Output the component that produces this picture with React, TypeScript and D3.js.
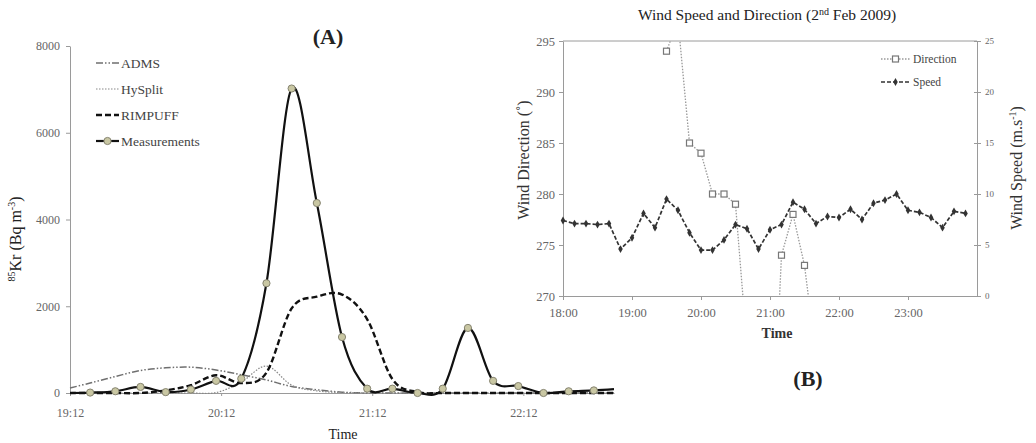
import { useEffect, useRef } from 'react';
import * as d3 from 'd3';

// ---------- Panel A: 85Kr concentration ----------
const measTimes = ['19:20', '19:30', '19:40', '19:50', '20:00', '20:10', '20:20', '20:30', '20:40', '20:50', '21:00',
  '21:10', '21:20', '21:30', '21:40', '21:50', '22:00', '22:10', '22:20', '22:30', '22:40'];
const measValues = [10, 40, 140, 20, 80, 280, 330, 2530, 7020, 4380, 1290, 100, 100, 0, 100, 1500, 280, 160, 0, 40, 60];
// line continues to the plot edges without markers
const measLead = { time: '19:12', value: 0 };
const measTail = { time: '22:48', value: 90 };

const modelTimes = ['19:12', '19:20', '19:30', '19:40', '19:50', '20:00', '20:10', '20:20', '20:30', '20:40', '20:50',
  '21:00', '21:10', '21:20', '21:30', '21:40', '21:50', '22:00', '22:10', '22:20', '22:30', '22:40', '22:48'];
const admsValues = [115, 230, 380, 520, 580, 595, 530, 420, 300, 150, 75, 20, 0, 0, 0, 0, 0, 0, 0, 0, 0, 0, 0];
const hysplitValues = [0, 0, 0, 0, 0, 0, 10, 250, 620, 180, 50, 10, 0, 0, 0, 0, 0, 0, 0, 0, 0, 0, 0];
const rimpuffValues = [0, 0, 0, 0, 60, 180, 410, 230, 470, 1950, 2220, 2270, 1700, 320, 20, 0, 0, 0, 0, 0, 0, 0, 0];

const concTicks = [0, 2000, 4000, 6000, 8000];
const timeTicksA = ['19:12', '20:12', '21:12', '22:12'];

// ---------- Panel B: wind ----------
const speedTimes = ['18:00', '18:10', '18:20', '18:30', '18:40', '18:50', '19:00', '19:10', '19:20', '19:30', '19:40', '19:50',
  '20:00', '20:10', '20:20', '20:30', '20:40', '20:50', '21:00', '21:10', '21:20', '21:30', '21:40', '21:50',
  '22:00', '22:10', '22:20', '22:30', '22:40', '22:50', '23:00', '23:10', '23:20', '23:30', '23:40', '23:50'];
const speedValues = [7.4, 7.1, 7.1, 7.0, 7.1, 4.6, 5.7, 8.1, 6.7, 9.5, 8.4, 6.2,
  4.5, 4.5, 5.5, 7.0, 6.6, 4.6, 6.5, 7.0, 9.2, 8.5, 7.1, 7.8,
  7.7, 8.5, 7.5, 9.1, 9.4, 10.0, 8.4, 8.2, 7.7, 6.7, 8.3, 8.1];

const dirTimes = ['19:30', '19:40', '19:50', '20:00', '20:10', '20:20', '20:30', '20:40', '20:50', '21:00', '21:10', '21:20', '21:30', '21:40'];
const dirValues = [294, 297, 285, 284, 280, 280, 279, 265, 255, 250, 274, 278, 273, 264];

const dirTicks = [270, 275, 280, 285, 290, 295];
const speedTicks = [0, 5, 10, 15, 20, 25];
const timeTicksB = ['18:00', '19:00', '20:00', '21:00', '22:00', '23:00'];

const FONT = '"Liberation Serif", "Times New Roman", serif';
const AXIS = '#9a9a9a';
const TICK_TEXT = '#666';
const LABEL = '#222';

const toMin = (t: string) => {
  const [h, m] = t.split(':').map(Number);
  return h * 60 + m;
};

const styleAxis = (g: any, size: number) => {
  g.select('.domain').attr('stroke', AXIS);
  g.selectAll('.tick line').attr('stroke', AXIS);
  g.selectAll('.tick text').attr('fill', TICK_TEXT).style('font-family', FONT).style('font-size', `${size}px`);
};

function drawPanelA(svg: any) {
  const x = d3.scaleLinear().domain([toMin('19:12'), toMin('22:48')]).range([70, 614]);
  const y = d3.scaleLinear().domain([0, 8000]).range([393, 46]);
  const g = svg.append('g');

  // axes
  g.append('g')
    .attr('transform', 'translate(70,0)')
    .call(d3.axisLeft(y).tickValues(concTicks).tickSize(4).tickSizeOuter(0).tickPadding(6).tickFormat(d3.format('d')))
    .call((s: any) => styleAxis(s, 12));

  g.append('g')
    .attr('transform', 'translate(0,393)')
    .call(d3.axisBottom(x).tickValues(timeTicksA.map(toMin)).tickSize(3).tickSizeOuter(0).tickPadding(12)
      .tickFormat((d: any, i: number) => timeTicksA[i]))
    .call((s: any) => styleAxis(s, 12));

  const smooth = d3.line<[number, number]>()
    .x(d => x(d[0]))
    .y(d => y(d[1]))
    .curve(d3.curveCardinal.tension(0));

  const models = [
    { name: 'ADMS', values: admsValues, stroke: '#6f6f6f', width: 1.5, dash: '7,2,1.5,2,1.5,2' },
    { name: 'HySplit', values: hysplitValues, stroke: '#888', width: 1.2, dash: '1.5,1.5' },
    { name: 'RIMPUFF', values: rimpuffValues, stroke: '#111', width: 2.4, dash: '6,3' },
  ];

  models.forEach(m => {
    const pts: [number, number][] = modelTimes.map((t, i) => [toMin(t), m.values[i]]);
    g.append('path')
      .attr('d', smooth(pts))
      .attr('fill', 'none')
      .attr('stroke', m.stroke)
      .attr('stroke-width', m.width)
      .attr('stroke-dasharray', m.dash);
  });

  // measurements
  const measPts: [number, number][] = [
    [toMin(measLead.time), measLead.value],
    ...measTimes.map((t, i) => [toMin(t), measValues[i]] as [number, number]),
    [toMin(measTail.time), measTail.value],
  ];
  g.append('path')
    .attr('d', smooth(measPts))
    .attr('fill', 'none')
    .attr('stroke', '#111')
    .attr('stroke-width', 2.2);

  g.selectAll('.meas')
    .data(measTimes)
    .enter()
    .append('circle')
    .attr('cx', (t: string) => x(toMin(t)))
    .attr('cy', (t: string, i: number) => y(measValues[i]))
    .attr('r', 3.6)
    .attr('fill', '#c9c7a3')
    .attr('stroke', '#85836f')
    .attr('stroke-width', 1);

  // legend
  const legend = [...models, { name: 'Measurements', stroke: '#111', width: 2.2, dash: null as any }];
  legend.forEach((m, i) => {
    const ly = 63 + i * 26;
    g.append('line')
      .attr('x1', 96).attr('x2', 119).attr('y1', ly).attr('y2', ly)
      .attr('stroke', m.stroke)
      .attr('stroke-width', m.width)
      .attr('stroke-dasharray', m.dash);
    if (m.name === 'Measurements') {
      g.append('circle').attr('cx', 107.5).attr('cy', ly).attr('r', 3.6)
        .attr('fill', '#c9c7a3').attr('stroke', '#85836f');
    }
    g.append('text')
      .attr('x', 121).attr('y', ly + 4.5)
      .style('font-family', FONT).style('font-size', '13.5px')
      .attr('fill', '#444')
      .text(m.name);
  });

  // titles
  g.append('text')
    .attr('x', 328).attr('y', 44)
    .attr('text-anchor', 'middle')
    .style('font-family', FONT).style('font-size', '22px').style('font-weight', 'bold')
    .attr('fill', LABEL)
    .text('(A)');

  g.append('text')
    .attr('x', 343).attr('y', 439)
    .attr('text-anchor', 'middle')
    .style('font-family', FONT).style('font-size', '14px')
    .attr('fill', LABEL)
    .text('Time');

  const yl = g.append('text')
    .attr('transform', 'translate(21,239) rotate(-90)')
    .attr('text-anchor', 'middle')
    .style('font-family', FONT).style('font-size', '16px')
    .attr('fill', LABEL);
  yl.append('tspan').attr('dy', -6).style('font-size', '10px').text('85');
  yl.append('tspan').attr('dy', 6).text('Kr (Bq m');
  yl.append('tspan').attr('dy', -6).style('font-size', '10px').text('-3');
  yl.append('tspan').attr('dy', 6).text(')');
}

function drawPanelB(svg: any) {
  const x = d3.scaleLinear().domain([toMin('18:00'), toMin('24:00')]).range([563, 977]);
  const yDir = d3.scaleLinear().domain([270, 295]).range([296, 41]);
  const ySpd = d3.scaleLinear().domain([0, 25]).range([296, 41]);
  const g = svg.append('g');

  g.append('clipPath').attr('id', 'clipB')
    .append('rect').attr('x', 563).attr('y', 41).attr('width', 414).attr('height', 255);

  // frame top
  g.append('line').attr('x1', 563).attr('x2', 977).attr('y1', 41).attr('y2', 41).attr('stroke', AXIS);

  g.append('g')
    .attr('transform', 'translate(563,0)')
    .call(d3.axisLeft(yDir).tickValues(dirTicks).tickSize(4).tickSizeOuter(0).tickPadding(4))
    .call((s: any) => styleAxis(s, 12.5));

  g.append('g')
    .attr('transform', 'translate(977,0)')
    .call(d3.axisRight(ySpd).tickValues(speedTicks).tickSize(4).tickSizeOuter(0).tickPadding(4))
    .call((s: any) => styleAxis(s, 9))
    .call((s: any) => s.selectAll('.tick line').attr('x1', -3));

  g.append('g')
    .attr('transform', 'translate(0,296)')
    .call(d3.axisBottom(x).tickValues(timeTicksB.map(toMin)).tickSize(4).tickSizeOuter(0).tickPadding(8)
      .tickFormat((d: any, i: number) => timeTicksB[i]))
    .call((s: any) => styleAxis(s, 12.5));

  // direction
  const dirLine = d3.line<number>()
    .x((d, i) => x(toMin(dirTimes[i])))
    .y(d => yDir(d));
  const clipped = g.append('g').attr('clip-path', 'url(#clipB)');
  clipped.append('path')
    .attr('d', dirLine(dirValues))
    .attr('fill', 'none')
    .attr('stroke', '#999')
    .attr('stroke-width', 1.3)
    .attr('stroke-dasharray', '1.5,1.5');
  clipped.selectAll('.dir')
    .data(dirValues)
    .enter()
    .append('rect')
    .attr('x', (d: number, i: number) => x(toMin(dirTimes[i])) - 3)
    .attr('y', (d: number) => yDir(d) - 3)
    .attr('width', 6).attr('height', 6)
    .attr('fill', '#fff')
    .attr('stroke', '#777')
    .attr('stroke-width', 1.2);

  // speed
  const spdLine = d3.line<number>()
    .x((d, i) => x(toMin(speedTimes[i])))
    .y(d => ySpd(d));
  g.append('path')
    .attr('d', spdLine(speedValues))
    .attr('fill', 'none')
    .attr('stroke', '#333')
    .attr('stroke-width', 1.7)
    .attr('stroke-dasharray', '4,2');
  const diamond = d3.symbol().type(d3.symbolDiamond).size(18);
  g.selectAll('.spd')
    .data(speedValues)
    .enter()
    .append('path')
    .attr('d', diamond())
    .attr('transform', (d: number, i: number) => `translate(${x(toMin(speedTimes[i]))},${ySpd(d)})`)
    .attr('fill', '#333');

  // legend
  g.append('line').attr('x1', 881).attr('x2', 910).attr('y1', 59).attr('y2', 59)
    .attr('stroke', '#999').attr('stroke-width', 1.3).attr('stroke-dasharray', '1.5,1.5');
  g.append('rect').attr('x', 892.5).attr('y', 56).attr('width', 6).attr('height', 6)
    .attr('fill', '#fff').attr('stroke', '#777').attr('stroke-width', 1.2);
  g.append('text').attr('x', 913).attr('y', 63)
    .style('font-family', FONT).style('font-size', '11.5px').attr('fill', '#444').text('Direction');

  g.append('line').attr('x1', 881).attr('x2', 910).attr('y1', 82).attr('y2', 82)
    .attr('stroke', '#333').attr('stroke-width', 1.7).attr('stroke-dasharray', '4,2');
  g.append('path').attr('d', diamond()).attr('transform', 'translate(895.5,82)').attr('fill', '#333');
  g.append('text').attr('x', 913).attr('y', 86)
    .style('font-family', FONT).style('font-size', '11.5px').attr('fill', '#444').text('Speed');

  // titles
  const title = g.append('text')
    .attr('x', 767).attr('y', 20)
    .attr('text-anchor', 'middle')
    .style('font-family', FONT).style('font-size', '15.5px')
    .attr('fill', LABEL);
  title.append('tspan').text('Wind Speed and Direction (2');
  title.append('tspan').attr('dy', -5).style('font-size', '10px').text('nd');
  title.append('tspan').attr('dy', 5).text(' Feb 2009)');

  g.append('text')
    .attr('x', 777).attr('y', 338)
    .attr('text-anchor', 'middle')
    .style('font-family', FONT).style('font-size', '14px').style('font-weight', 'bold')
    .attr('fill', '#333')
    .text('Time');

  g.append('text')
    .attr('x', 808).attr('y', 386)
    .attr('text-anchor', 'middle')
    .style('font-family', FONT).style('font-size', '22px').style('font-weight', 'bold')
    .attr('fill', LABEL)
    .text('(B)');

  g.append('text')
    .attr('transform', 'translate(529,160) rotate(-90)')
    .attr('text-anchor', 'middle')
    .style('font-family', FONT).style('font-size', '16px')
    .attr('fill', '#333')
    .text('Wind Direction (\u02da)');

  const yr = g.append('text')
    .attr('transform', 'translate(1022,168) rotate(-90)')
    .attr('text-anchor', 'middle')
    .style('font-family', FONT).style('font-size', '16px')
    .attr('fill', '#333');
  yr.append('tspan').text('Wind Speed (m.s');
  yr.append('tspan').attr('dy', -6).style('font-size', '10px').text('-1');
  yr.append('tspan').attr('dy', 6).text(')');
}

export default function App() {
  const svgRef = useRef<SVGSVGElement>(null);

  useEffect(() => {
    const svg = d3.select(svgRef.current);
    svg.selectAll('*').remove();
    drawPanelA(svg);
    drawPanelB(svg);
  }, []);

  return (
    <svg
      ref={svgRef}
      width={1036}
      height={443}
      style={{ position: 'absolute', left: 0, top: 0, background: '#fff' }}
    />
  );
}
